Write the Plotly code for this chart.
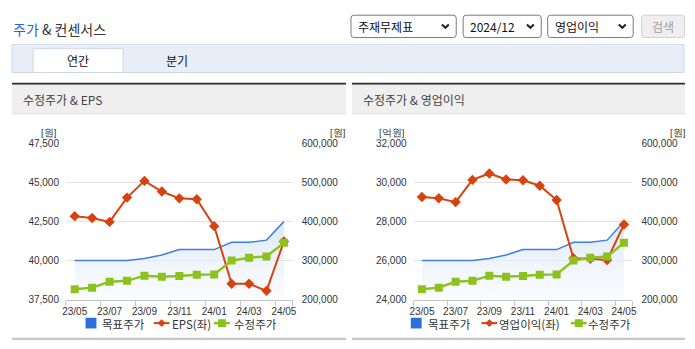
import plotly.graph_objects as go

W, H = 695, 349

# ---------------- data ----------------
months = ["23/05", "23/06", "23/07", "23/08", "23/09", "23/10", "23/11",
          "23/12", "24/01", "24/02", "24/03", "24/04", "24/05"]
target_price = [300000, 300000, 298700, 300000, 305400, 314500, 328600,
                328600, 328200, 347000, 347000, 352500, 400000]
adj_price = [226500, 230700, 245600, 248100, 261400, 258900, 260600,
             263900, 264700, 300000, 307500, 310600, 345500]
eps = [42850, 42730, 42480, 44040, 45110, 44430, 43990,
       43930, 42210, 38520, 38520, 38060, 41230]
op_income = [29260, 29200, 29000, 30140, 30470, 30160, 30120,
             29840, 29110, 26120, 26090, 26030, 27850]

eps_ticks = [37500, 40000, 42500, 45000, 47500]
op_ticks = [24000, 26000, 28000, 30000, 32000]
price_ticks = [200000, 300000, 400000, 500000, 600000]

C_BLUE = "#3f7fe0"
C_BLUE_LEG = "#2a6fdb"
C_RED = "#d8420e"
C_GREEN = "#8cc21c"
KFONT = "Noto Sans CJK KR"
NFONT = "Liberation Sans Narrow, Liberation Sans, Arial, sans-serif"


def X(px):
    return px / W


def Y(py):
    return 1 - py / H


idx = list(range(len(months)))

fig = go.Figure()

# per chart: x axis, base price axis (right, grid), left-value overlay, hidden price overlay
charts = [
    ("x", "y", "y2", "y5", eps, eps_ticks, (62.7, 292.0)),
    ("x2", "y3", "y4", "y6", op_income, op_ticks, (414.3, 635.7)),
]

for xa, yp, yl, yg, left_vals, _, _ in charts:
    fig.add_trace(go.Scatter(
        x=idx, y=target_price, xaxis=xa, yaxis=yp, mode="lines",
        line=dict(color=C_BLUE, width=1.5), fill="tozeroy",
        fillgradient=dict(type="vertical",
                          colorscale=[[0, "rgba(246,249,253,0.4)"],
                                      [1, "rgba(218,230,247,0.95)"]],
                          start=price_ticks[0], stop=price_ticks[2]),
        showlegend=False, hoverinfo="skip"))
    fig.add_trace(go.Scatter(
        x=idx, y=left_vals, xaxis=xa, yaxis=yl, mode="lines+markers",
        line=dict(color=C_RED, width=2),
        marker=dict(symbol="diamond", size=8, color=C_RED),
        showlegend=False))
    fig.add_trace(go.Scatter(
        x=idx, y=adj_price, xaxis=xa, yaxis=yg, mode="lines+markers",
        line=dict(color=C_GREEN, width=2.5),
        marker=dict(symbol="square", size=8, color=C_GREEN),
        showlegend=False))

ydom = [Y(303.3), Y(142.7)]
tickfont = dict(family=NFONT, size=10, color="#333")
minor_vals = [i - 0.5 for i in idx[::2]] + [idx[-1] + 0.5]


def xaxis_cfg(px_range, anchor):
    return dict(domain=[X(px_range[0]), X(px_range[1])], anchor=anchor,
                range=[-0.5, len(months) - 0.5],
                tickvals=idx[::2], ticktext=months[::2], ticks="",
                showline=True, linecolor="#c4c4c4", linewidth=1,
                showgrid=False, zeroline=False, tickfont=tickfont,
                ticklabelstandoff=2,
                minor=dict(tickvals=minor_vals, ticks="outside", ticklen=5,
                           tickcolor="#c4c4c4", showgrid=False))


def yprice_cfg(anchor):
    return dict(domain=ydom, anchor=anchor, side="right",
                range=[price_ticks[0], price_ticks[-1]], tickvals=price_ticks,
                tickformat=",", showgrid=True, gridcolor="#e2e2e2", gridwidth=1,
                zeroline=False, showline=False, ticks="",
                tickfont=tickfont, ticklabelstandoff=8)


def yleft_cfg(ticks, anchor, over):
    return dict(domain=ydom, anchor=anchor, overlaying=over, side="left",
                range=[ticks[0], ticks[-1]], tickvals=ticks, tickformat=",",
                showgrid=False, zeroline=False, showline=False, ticks="",
                tickfont=tickfont, ticklabelstandoff=6)


def yhidden_cfg(anchor, over):
    return dict(domain=ydom, anchor=anchor, overlaying=over, side="right",
                range=[price_ticks[0], price_ticks[-1]], visible=False,
                showgrid=False, zeroline=False)


fig.update_layout(
    width=W, height=H, margin=dict(l=0, r=0, t=0, b=0),
    paper_bgcolor="white", plot_bgcolor="rgba(0,0,0,0)",
    showlegend=False,
    xaxis=xaxis_cfg(charts[0][6], "y"),
    yaxis=yprice_cfg("x"),
    yaxis2=yleft_cfg(eps_ticks, "x", "y"),
    yaxis5=yhidden_cfg("x", "y"),
    xaxis2=xaxis_cfg(charts[1][6], "y3"),
    yaxis3=yprice_cfg("x2"),
    yaxis4=yleft_cfg(op_ticks, "x2", "y3"),
    yaxis6=yhidden_cfg("x2", "y3"),
)

shapes = []


def rect(x0, y0, x1, y1, fill, line=None, lw=1, layer="below"):
    shapes.append(dict(type="rect", xref="paper", yref="paper",
                       x0=X(x0), x1=X(x1), y0=Y(y1), y1=Y(y0),
                       fillcolor=fill,
                       line=dict(color=line or "rgba(0,0,0,0)", width=lw if line else 0),
                       layer=layer))


def rrect(x0, y0, x1, y1, r, fill, line, lw=1):
    p = (f"M {X(x0 + r)},{Y(y0)} L {X(x1 - r)},{Y(y0)} Q {X(x1)},{Y(y0)} {X(x1)},{Y(y0 + r)} "
         f"L {X(x1)},{Y(y1 - r)} Q {X(x1)},{Y(y1)} {X(x1 - r)},{Y(y1)} "
         f"L {X(x0 + r)},{Y(y1)} Q {X(x0)},{Y(y1)} {X(x0)},{Y(y1 - r)} "
         f"L {X(x0)},{Y(y0 + r)} Q {X(x0)},{Y(y0)} {X(x0 + r)},{Y(y0)} Z")
    shapes.append(dict(type="path", xref="paper", yref="paper", path=p,
                       fillcolor=fill, line=dict(color=line, width=lw),
                       layer="below"))


def seg(pts, color, lw, layer="above"):
    p = "M " + " L ".join(f"{X(a)},{Y(b)}" for a, b in pts)
    shapes.append(dict(type="path", xref="paper", yref="paper", path=p,
                       line=dict(color=color, width=lw), layer=layer))


# tab band
rect(8, 40.5, 688, 69.5, "#e8eef8", "#cfd9e8")
rect(29.5, 45, 120.5, 69.5, "#ffffff", "#cfd9e8")

# panels
for x0, x1 in [(8, 346), (352, 689)]:
    rect(x0, 80, x1, 82, "#333333")
    rect(x0, 82, x1, 112, "#efefef")
    rect(x0, 111.5, x1, 112.5, "#dcdcdc")
    rect(x0, 342.5, x1, 345, "#c8c8c8")

# dropdowns
dd = [(351, 457.5, "주재무제표"), (464.5, 543.5, "2024/12"), (550, 636.5, "영업이익")]
for x0, x1, _ in dd:
    rrect(x0, 10.5, x1, 33.5, 3, "#ffffff", "#7a7a7a")
    cx = x1 - 11
    seg([(cx - 3.5, 20), (cx, 23.5), (cx + 3.5, 20)], "#222", 2)
rrect(645, 10.5, 688.5, 33.5, 3, "#efefef", "#d0d0d0")

# legend symbols
legends = [
    (82.5, 151.5, 212.5, ["목표주가", "EPS(좌)", "수정주가"], (98.5, 168.5, 231.5)),
    (411.5, 483, 573.5, ["목표주가", "영업이익(좌)", "수정주가"], (427.5, 499.5, 590)),
]
LY = 327.5
for bx, rx, gx, labels, txs in legends:
    rect(bx, LY - 5.5, bx + 11, LY + 5.5, C_BLUE_LEG, layer="above")
    seg([(rx, LY), (rx + 16, LY)], C_RED, 2)
    dcx = rx + 8
    shapes.append(dict(type="path", xref="paper", yref="paper",
                       path=(f"M {X(dcx)},{Y(LY - 4)} L {X(dcx + 4)},{Y(LY)} "
                             f"L {X(dcx)},{Y(LY + 4)} L {X(dcx - 4)},{Y(LY)} Z"),
                       fillcolor=C_RED, line=dict(width=0), layer="above"))
    seg([(gx, LY), (gx + 16, LY)], C_GREEN, 2.5)
    rect(gx + 4, LY - 4, gx + 12, LY + 4, C_GREEN, layer="above")

fig.update_layout(shapes=shapes)

ann = []


def text(px, py, s, size=12, color="#333", anchor="left", family=KFONT):
    ann.append(dict(xref="paper", yref="paper", x=X(px), y=Y(py), text=s,
                    showarrow=False, xanchor=anchor, yanchor="middle",
                    borderpad=0,
                    font=dict(family=family, size=size, color=color)))


text(8, 25, "<span style='color:#2d62d0'>주가</span> & 컨센서스", size=14, color="#333")
text(75, 57.5, "연간", size=12, color="#111", anchor="center")
text(175, 57.5, "분기", size=12, color="#111", anchor="center")
text(18, 97, "수정주가 & EPS", size=12, color="#444")
text(362, 97, "수정주가 & 영업이익", size=12, color="#444")
for x0, x1, s in dd:
    text(x0 + 6, 22, s, size=12, color="#111")
text(666.8, 22, "검색", size=12, color="#a0a0a0", anchor="center")

# units
UY = 131.5
text(53.5, UY, "[원]", size=9.5, color="#333", anchor="right", family=NFONT)
text(329, UY, "[원]", size=9.5, color="#333", family=NFONT)
text(405.5, UY, "[억원]", size=9.5, color="#333", anchor="right", family=NFONT)
text(673, UY, "[원]", size=9.5, color="#333", family=NFONT)

for bx, rx, gx, labels, txs in legends:
    for s, tx in zip(labels, txs):
        text(tx, LY + 0.5, s, size=11.5, color="#333")

fig.update_layout(annotations=ann)

fig.write_html("out.html")
